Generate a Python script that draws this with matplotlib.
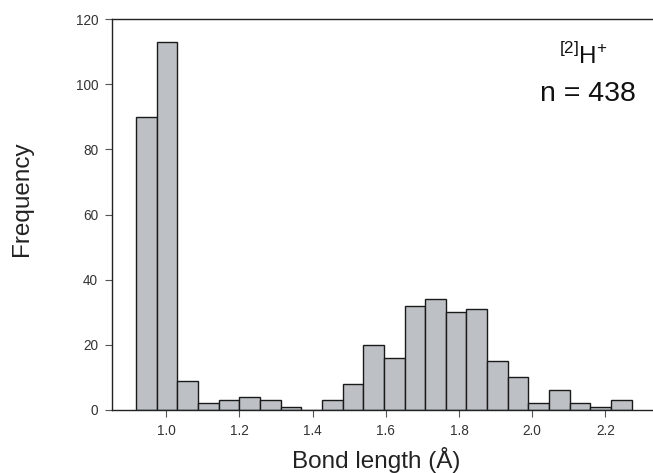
import numpy as np
import matplotlib.pyplot as plt

plt.rcParams['font.family'] = ['Liberation Sans', 'DejaVu Sans']
plt.rcParams['mathtext.fontset'] = 'custom'
plt.rcParams['mathtext.rm'] = 'Liberation Sans'

# histogram: 24 bins from 0.918 to 2.272 Å
bin_start = 0.918
bin_width = 0.0564
counts = [90, 113, 9, 2, 3, 4, 3, 1, 0, 3, 8, 20, 16, 32, 34, 30, 31, 15, 10, 2, 6, 2, 1, 3]
xticks = [1.0, 1.2, 1.4, 1.6, 1.8, 2.0, 2.2]
yticks = [0, 20, 40, 60, 80, 100, 120]

edges = bin_start + bin_width * np.arange(len(counts) + 1)

fig = plt.figure(figsize=(6.53, 4.73), dpi=100)
ax = fig.add_axes([0.1715, 0.1332, 0.8285, 0.8266])

ax.bar(edges[:-1], counts, width=bin_width, align='edge',
       color='#bdc1c5', edgecolor='#1a1a1a', linewidth=1.0)

ax.set_xlim(0.852, 2.33)
ax.set_ylim(0, 120)
ax.set_xticks(xticks)
ax.set_xticklabels([f"{t:.1f}" for t in xticks])
ax.set_yticks(yticks)
ax.spines['right'].set_visible(False)
for s in ['left', 'top', 'bottom']:
    ax.spines[s].set_linewidth(1.0)
    ax.spines[s].set_color('#222222')
ax.tick_params(direction='out', length=5, width=0.8, color='#555555',
               labelcolor='#333333', labelsize=9.8, pad=5)

ax.set_xlabel("Bond length (Å)", fontsize=17.5, color='#222222', va='baseline')
ax.xaxis.set_label_coords(0.488, -0.148)
ax.set_ylabel("Frequency", fontsize=17.5, color='#222222', va='center')
ax.yaxis.set_label_coords(-0.166, 0.54)

ax.text(0.871, 0.885, r"$^{[2]}$H$^{+}$", transform=ax.transAxes, ha='center',
        va='baseline', fontsize=17.5, color='#111111')
ax.text(0.880, 0.79, "n = 438", transform=ax.transAxes, ha='center',
        va='baseline', fontsize=20.5, color='#111111')

fig.savefig("out.png", dpi=100)
